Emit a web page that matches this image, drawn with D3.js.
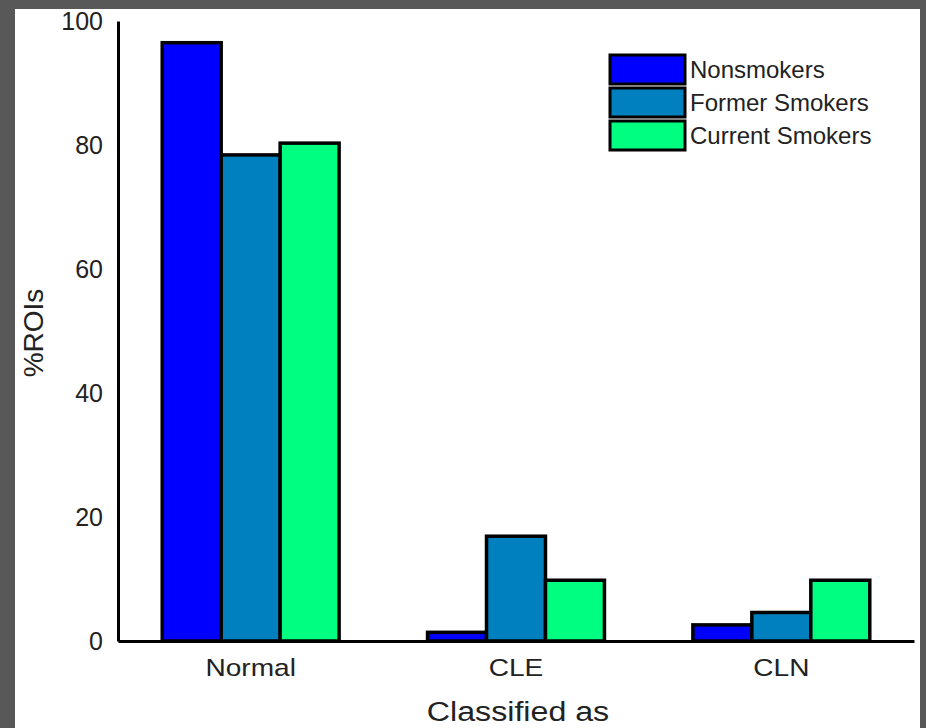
<!DOCTYPE html>
<html>
<head>
<meta charset="utf-8">
<script src="https://cdn.jsdelivr.net/npm/d3@7"></script>
<style>
  html, body { margin: 0; padding: 0; background: #585858; }
  svg { display: block; font-family: "Liberation Sans", Arial, sans-serif; }
</style>
</head>
<body>
<svg id="chart" width="926" height="728"></svg>
<script>
// data
var categories = ["Normal", "CLE", "CLN"];
var groups = ["Nonsmokers", "Former Smokers", "Current Smokers"];
var nonsmokers = [96.5, 1.4, 2.6];
var formerSmokers = [78.4, 16.9, 4.6];
var currentSmokers = [80.3, 9.8, 9.8];
var yTicks = [0, 20, 40, 60, 80, 100];
var colors = ["#0000ff", "#0080bf", "#00ff80"];

var series = [nonsmokers, formerSmokers, currentSmokers];

var svg = d3.select("#chart");

// white paper inside the grey frame
svg.append("rect")
    .attr("x", 15).attr("y", 9)
    .attr("width", 905).attr("height", 719)
    .attr("fill", "#ffffff");

var plotLeft = 118, plotRight = 914, plotTop = 21, plotBottom = 641;

var y = d3.scaleLinear().domain([0, 100]).range([plotBottom, plotTop]);
var x0 = d3.scaleBand().domain(categories)
    .range([plotLeft, plotRight])
    .paddingInner(1/3)
    .paddingOuter(1/6);
var x1 = d3.scaleBand().domain(groups)
    .range([0, x0.bandwidth()]);

// bars
for (var g = 0; g < groups.length; g++) {
    svg.append("g").selectAll("rect")
        .data(series[g])
        .enter().append("rect")
        .attr("x", (d, i) => x0(categories[i]) + x1(groups[g]))
        .attr("y", d => y(d))
        .attr("width", x1.bandwidth())
        .attr("height", d => y(0) - y(d))
        .attr("fill", colors[g])
        .attr("stroke", "#000")
        .attr("stroke-width", 3.5);
}

// axes
var yAxis = d3.axisLeft(y).tickValues(yTicks).tickSize(0).tickPadding(15);
var gy = svg.append("g").attr("transform", "translate(" + plotLeft + ",0)").call(yAxis);
gy.select(".domain").attr("stroke", "#000").attr("stroke-width", 3);
gy.selectAll("text").style("font-size", "25px").attr("fill", "#222");

var xAxis = d3.axisBottom(x0).tickSize(0).tickPadding(0);
var gx = svg.append("g").attr("transform", "translate(0," + plotBottom + ")").call(xAxis);
gx.select(".domain").attr("stroke", "#000").attr("stroke-width", 3);
// the reference glyphs are a bit wider than tall
gx.selectAll("text")
    .style("font-size", "24px")
    .attr("fill", "#222")
    .attr("y", 0).attr("dy", 0)
    .attr("transform", "translate(0,35) scale(1.17,1)");

// axis titles
svg.append("text")
    .attr("transform", "translate(" + ((plotLeft + plotRight) / 2 + 2) + ",721) scale(1.15,1)")
    .attr("text-anchor", "middle")
    .style("font-size", "28px")
    .attr("fill", "#222")
    .text("Classified as");

svg.append("text")
    .attr("transform", "translate(43,333) rotate(-90)")
    .attr("text-anchor", "middle")
    .style("font-size", "28px")
    .attr("fill", "#222")
    .text("%ROIs");

// legend
var legend = svg.append("g").attr("transform", "translate(610,55)");
for (var g = 0; g < groups.length; g++) {
    var row = legend.append("g").attr("transform", "translate(0," + (g * 33) + ")");
    row.append("rect")
        .attr("x", 0).attr("y", 0)
        .attr("width", 75).attr("height", 29)
        .attr("fill", colors[g])
        .attr("stroke", "#000")
        .attr("stroke-width", 3);
    row.append("text")
        .attr("x", 80).attr("y", 15)
        .attr("dy", "0.35em")
        .style("font-size", "24px")
        .attr("fill", "#222")
        .text(groups[g]);
}
</script>
</body>
</html>
